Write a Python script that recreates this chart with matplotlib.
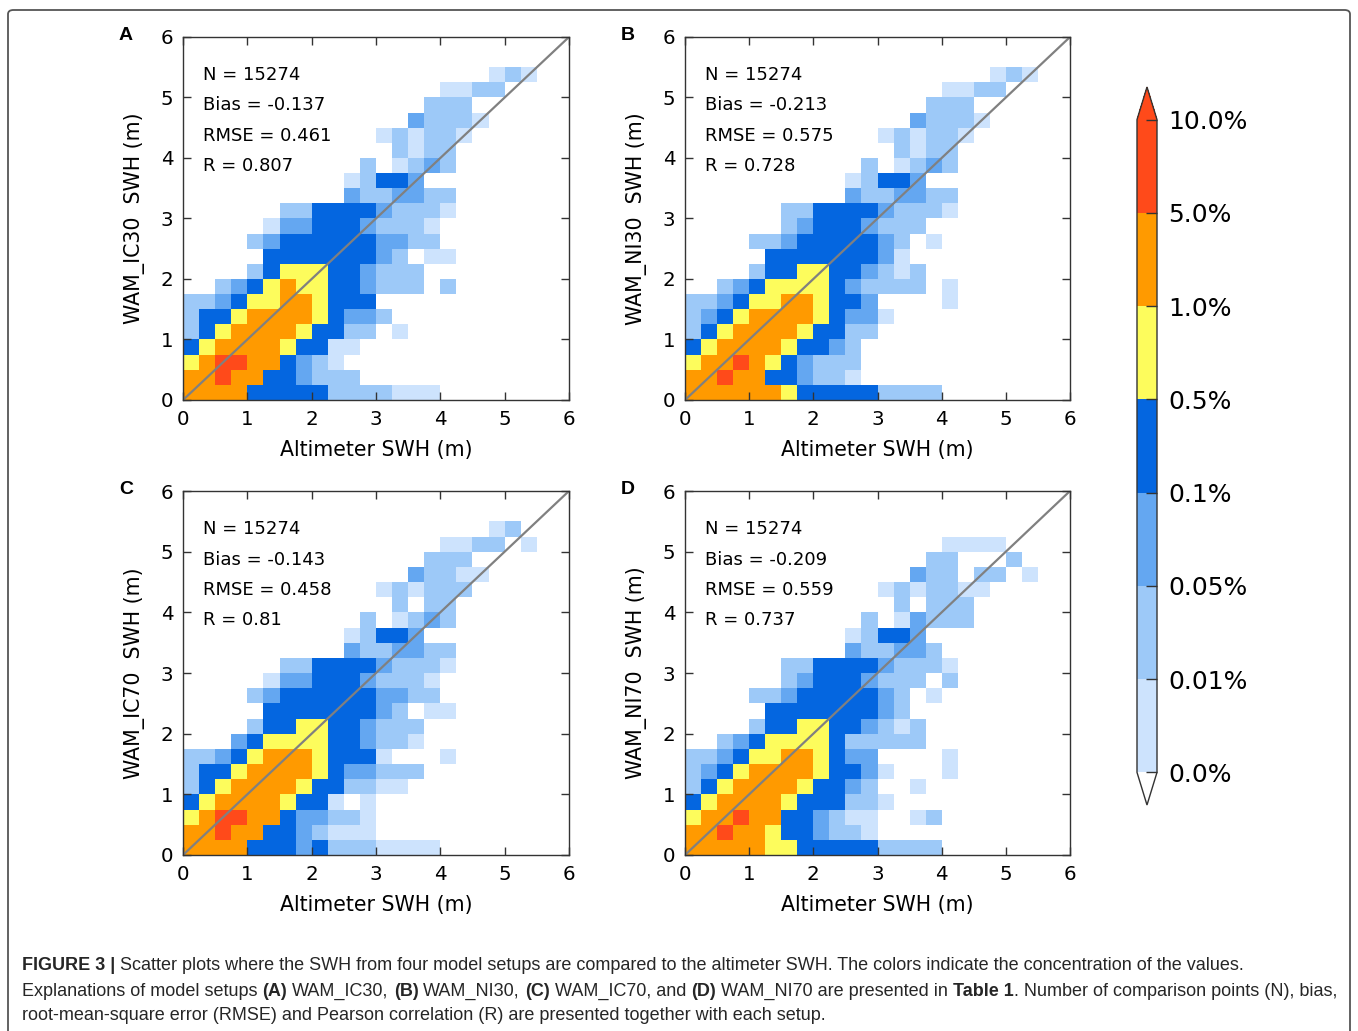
import numpy as np
import matplotlib
matplotlib.use("Agg")
import matplotlib.pyplot as plt
from matplotlib.colors import ListedColormap, BoundaryNorm
from matplotlib.patches import FancyBboxPatch

# class of each 0.25 m x 0.25 m cell, one string per row from SWH=0 upward
# '.' = no data, 1..7 = colour class (see class_pct / bounds)
grid_a = [
    "6666444442222111",
    "66766443222",
    "5677664321",
    "45666654411",
    "245666654422.1",
    "2445666654332",
    "223455665444",
    "..2345655443222.2",
    "....24555443222",
    ".....444444432.11",
    "....234444443322",
    ".....13344432221",
    "......22444432221",
    "..........3223322",
    "..........12443",
    "...........2.1232",
    ".............2122",
    "............121221",
    "..............32221",
    "...............222",
    "................1122",
    "...................121",
]
grid_b = [
    "6666665444442222",
    "66766443221",
    "56676543222",
    "45666654432",
    "245666654422",
    "2345666654331",
    "223455665443....1",
    "..2345555432222.1",
    "....24455443212",
    ".....444444431",
    "....2234444432.1",
    "......234443222",
    "......22444432221",
    "..........3223322",
    "..........12443",
    "...........2.1232",
    ".............2122",
    "............121221",
    "..............32221",
    "...............222",
    "................1122",
    "...................121",
]
grid_c = [
    "6666444342221111",
    "667664432111",
    "567766433221",
    "4566665441.1",
    "24566665442211",
    "244566665433222",
    "2234566654441...1",
    "...345555443221",
    "....24455443222",
    ".....444444432.11",
    "....234444443322",
    ".....13344432221",
    "......22444432221",
    "..........3223322",
    "..........12443",
    "...........2.1232",
    ".............2.22",
    "............121222",
    "..............32211",
    "...............222",
    "................1122.1",
    "...................12",
]
grid_d = [
    "6666655444442222",
    "667665443221",
    "566766443211..12",
    "4566665444221",
    "245666654432..1",
    "2345666654431...1",
    "223455665433....1",
    "..2345555422222",
    "....24455443212",
    ".....444444432",
    "....2234444432.1",
    "......234443222.2",
    "......22444432221",
    "..........322332",
    "..........12443",
    "...........2.13222",
    ".............2.222",
    "............1212211",
    "..............322.22.1",
    "...............22...2",
    "................1111",
]

grids = [grid_a, grid_b, grid_c, grid_d]
letters = ["A", "B", "C", "D"]
setups = ["WAM_IC30", "WAM_NI30", "WAM_IC70", "WAM_NI70"]
n_points = [15274, 15274, 15274, 15274]
bias = ["-0.137", "-0.213", "-0.143", "-0.209"]
rmse = ["0.461", "0.575", "0.458", "0.559"]
corr = ["0.807", "0.728", "0.81", "0.737"]

bounds = [0.0, 0.01, 0.05, 0.1, 0.5, 1.0, 5.0, 10.0]
bound_labels = ["0.0%", "0.01%", "0.05%", "0.1%", "0.5%", "1.0%", "5.0%", "10.0%"]
class_pct = [np.nan, 0.005, 0.03, 0.075, 0.3, 0.75, 3.0, 7.5]
colors = ["#cde3fd", "#9dc9f8", "#64a7f1", "#0466e0", "#fdfc5c", "#ff9a00", "#ff4a1a"]

W, H = 1358, 1031


def fx(px):
    return px / W


def fy(py):
    return 1 - py / H


def to_array(rows):
    arr = np.full((24, 24), np.nan)
    for i, row in enumerate(rows):
        for j, ch in enumerate(row):
            if ch != ".":
                arr[i, j] = class_pct[int(ch)]
    return arr


cmap = ListedColormap(colors)
cmap.set_under("white")
cmap.set_over(colors[-1])
norm = BoundaryNorm(bounds, cmap.N)

fig = plt.figure(figsize=(W / 100, H / 100), dpi=100)

# outer frame
fig.patches.append(FancyBboxPatch((fx(8), fy(1040)), fx(1342), (1040 - 10) / H,
                                  boxstyle="round,pad=0,rounding_size=0.004",
                                  transform=fig.transFigure, fill=False,
                                  edgecolor="#555555", linewidth=1.3))

# axes pixel boxes: left, right, top, bottom
boxes = [(183, 569, 37, 400), (685, 1070, 37, 400),
         (183, 569, 491, 855), (685, 1070, 491, 855)]
edges = np.arange(0, 6.001, 0.25)

for k, (l, r, t, b) in enumerate(boxes):
    ax = fig.add_axes([fx(l), fy(b), (r - l) / W, (b - t) / H])
    mesh = ax.pcolormesh(edges, edges, np.ma.masked_invalid(to_array(grids[k])),
                         cmap=cmap, norm=norm)
    ax.plot([0, 6], [0, 6], color="#808080", lw=1.6)
    ax.set_xlim(0, 6)
    ax.set_ylim(0, 6)
    ax.set_xticks(range(7))
    ax.set_yticks(range(7))
    ax.tick_params(direction="in", length=6, width=1, top=True, right=True,
                   labelsize=14.3, pad=7, colors="#333333", labelcolor="black")
    for s in ax.spines.values():
        s.set_color("#333333")
        s.set_linewidth(1.0)
    ax.set_xlabel("Altimeter SWH (m)", fontsize=14.8, labelpad=8)
    ax.set_ylabel(setups[k] + "  SWH (m)", fontsize=14.8, labelpad=11)
    stats = ["N = %d" % n_points[k], "Bias = " + bias[k],
             "RMSE = " + rmse[k], "R = " + corr[k]]
    for i, s in enumerate(stats):
        ax.text(0.31, 5.37 - 0.5 * i, s, fontsize=13, va="center", ha="left")
    fig.text(fx(l - 57), fy(t - 1), letters[k], fontsize=14, fontweight="bold",
             family="Liberation Sans", ha="center", va="center")

# colour bar
cax = fig.add_axes([fx(1137), fy(805), 20 / W, (805 - 87) / H])
cb = fig.colorbar(mesh, cax=cax, extend="both", ticks=bounds, extendfrac=0.05)
cb.ax.set_yticklabels(bound_labels)
cb.ax.tick_params(direction="in", length=8, width=1, labelsize=18, pad=8,
                  colors="#333333", labelcolor="black")
cb.outline.set_edgecolor("#333333")
cb.outline.set_linewidth(1.0)

# caption with bold parts
renderer = fig.canvas.get_renderer()
cap_size = 13.0
cap_font = "Liberation Sans"


def text_w(s, weight):
    t = fig.text(0, 0, s, fontsize=cap_size, family=cap_font, fontweight=weight)
    w = t.get_window_extent(renderer).width
    t.remove()
    return w


space_w = {w: text_w("a a", w) - text_w("aa", w) for w in ("normal", "bold")}


def rich_line(x_px, y_px, pieces):
    x = x_px
    for s, bold in pieces:
        weight = "bold" if bold else "normal"
        lead = len(s) - len(s.lstrip(" "))
        trail = len(s) - len(s.rstrip(" "))
        x += lead * space_w[weight]
        core = s.strip(" ")
        if core:
            t = fig.text(fx(x), fy(y_px), core, fontsize=cap_size, family=cap_font,
                         fontweight=weight, ha="left", va="center", color="#262626")
            x += t.get_window_extent(renderer).width
        x += trail * space_w[weight]


rich_line(22, 965, [("FIGURE 3 |", True),
                    (" Scatter plots where the SWH from four model setups are compared to the "
                     "altimeter SWH. The colors indicate the concentration of the values.", False)])
rich_line(22, 991, [("Explanations of model setups ", False), ("(A)", True), (" WAM_IC30, ", False),
                    ("(B)", True), (" WAM_NI30, ", False), ("(C)", True), (" WAM_IC70, and ", False),
                    ("(D)", True), (" WAM_NI70 are presented in ", False), ("Table 1", True),
                    (". Number of comparison points (N), bias,", False)])
rich_line(22, 1016, [("root-mean-square error (RMSE) and Pearson correlation (R) are presented "
                      "together with each setup.", False)])

fig.savefig("out.png", dpi=100)
